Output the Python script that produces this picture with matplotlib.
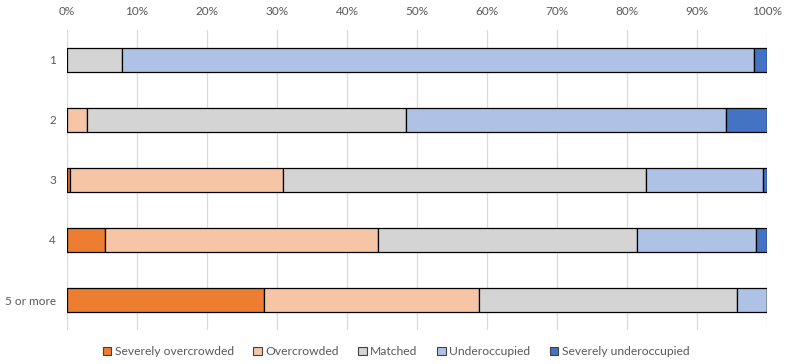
import matplotlib.pyplot as plt
from matplotlib.patches import Patch
from matplotlib.ticker import PercentFormatter

plt.rcParams['font.family'] = ['Lato', 'DejaVu Sans']

categories = ["1", "2", "3", "4", "5 or more"]
series_names = ["Severely overcrowded", "Overcrowded", "Matched", "Underoccupied", "Severely underoccupied"]
severely_overcrowded = [0.0, 0.0, 0.4, 5.4, 28.2]
overcrowded = [0.0, 2.8, 30.5, 39.0, 30.7]
matched = [7.8, 45.7, 51.8, 37.0, 36.8]
underoccupied = [90.3, 45.7, 16.7, 17.1, 4.3]
severely_underoccupied = [1.9, 5.8, 0.6, 1.5, 0.0]
series_values = [severely_overcrowded, overcrowded, matched, underoccupied, severely_underoccupied]
colors = ["#ED7D31", "#F6C5A6", "#D4D4D4", "#ADC2E4", "#4472C4"]

fig = plt.figure(figsize=(7.89, 3.64), dpi=100)
ax = fig.add_axes([0.0849, 0.0934, 0.8872, 0.8242])

ypos = range(len(categories))
left = [0.0] * len(categories)
for name, vals, col in zip(series_names, series_values, colors):
    ax.barh(ypos, vals, left=left, height=0.4, color=col, edgecolor="black",
            linewidth=0.9, label=name, zorder=3)
    left = [l + v for l, v in zip(left, vals)]

ax.set_xlim(0, 100)
ax.set_ylim(4.5, -0.5)
ax.set_xticks(range(0, 101, 10))
ax.xaxis.set_major_formatter(PercentFormatter(decimals=0))
ax.xaxis.tick_top()
ax.set_yticks(list(ypos))
ax.set_yticklabels(categories)
ax.tick_params(axis="both", length=0, labelsize=8.5, colors="#595959")
ax.tick_params(axis="x", pad=9)
ax.tick_params(axis="y", pad=8)
ax.grid(axis="x", color="#D9D9D9", linewidth=0.9, zorder=0)
for s in ax.spines.values():
    s.set_visible(False)

handles = [Patch(facecolor=c, edgecolor="#404040", linewidth=0.8) for c in colors]
fig.legend(handles, series_names, loc="center", bbox_to_anchor=(0.502, 0.033), ncol=5,
           frameon=False, fontsize=8.7, handlelength=0.7, handleheight=0.7,
           handletextpad=0.3, columnspacing=1.6, labelcolor="#595959")

fig.savefig("out.png", dpi=100)
